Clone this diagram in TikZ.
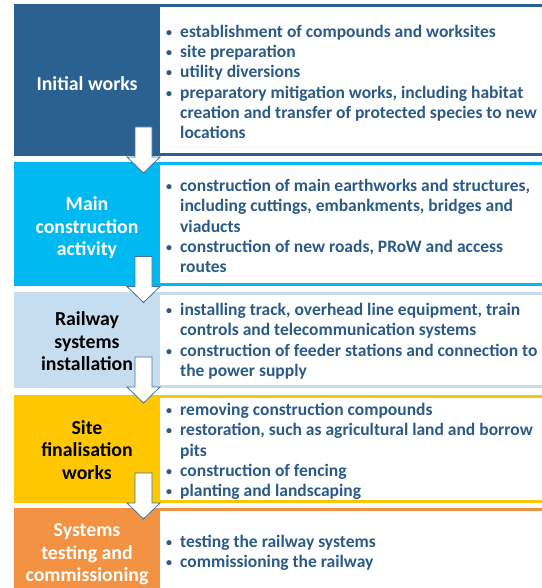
\documentclass[tikz,border=0pt]{standalone}
\usepackage{fontspec}
\setmainfont{Carlito}
\definecolor{stageA}{HTML}{2A6190}
\definecolor{stageB}{HTML}{00B9F1}
\definecolor{stageC}{HTML}{C6DDF0}
\definecolor{stageD}{HTML}{FFC700}
\definecolor{stageE}{HTML}{F39243}
\definecolor{itemtext}{HTML}{2C5A87}
\definecolor{arrowline}{HTML}{41719C}
\newcommand{\bul}{\makebox[14bp][l]{\raisebox{1bp}{\fontsize{12bp}{12bp}\selectfont\textbullet}}}
\newcommand{\cont}{\makebox[14bp][l]{}}
\tikzset{
  stagelabel/.style={font=\bfseries\fontsize{19.8bp}{22.5bp}\selectfont, align=center, inner sep=0pt},
  itemlist/.style={anchor=west, text=itemtext, inner sep=0pt,
    font=\bfseries\fontsize{17.5bp}{20.3bp}\selectfont, align=left},
  panel/.style={fill=white},
  pics/downarrow/.style={code={
    \draw[fill=white, draw=arrowline, line width=0.8bp, line join=miter]
      (-8.5,0) -- (8.5,0) -- (8.5,30) -- (16.5,30) -- (0,46)
      -- (-16.5,30) -- (-8.5,30) -- cycle;
  }}
}
\begin{document}
\begin{tikzpicture}[x=1bp, y=-1bp]
\useasboundingbox (0,0) rectangle (542,588);
\clip (0,0) rectangle (542,588);
\fill[white] (0,0) rectangle (542,588);

% stage backgrounds with white item panels
\fill[stageA] (14,4.5) rectangle (560,156);
\fill[panel] (160,7) rectangle (560,153.5);
\fill[stageB] (14,162) rectangle (560,285.5);
\fill[panel] (160,165) rectangle (560,283);
\fill[stageC] (14,292) rectangle (560,387.5);
\fill[panel] (160,295) rectangle (560,385);
\fill[stageD] (14,395) rectangle (560,502.5);
\fill[panel] (160,398) rectangle (560,500);
\fill[stageE] (14,508) rectangle (560,600);
\fill[panel] (160,511) rectangle (560,600);

% stage names
\node[stagelabel, text=white] (s1) at (87,84) {Initial works};
\node[stagelabel, text=white] (s2) at (87,228) {Main\\construction\\activity};
\node[stagelabel, text=black] (s3) at (87,341.5) {Railway\\systems\\installation};
\node[stagelabel, text=black] (s4) at (87,450) {Site\\finalisation\\works};
\node[stagelabel, text=white] (s5) at (87,554.5) {Systems\\testing and\\commissioning};

% activities of each stage
\node[itemlist] (l1) at (166,84) {\begin{tabular}{@{}l@{}}
\bul establishment of compounds and worksites\\
\bul site preparation\\
\bul utility diversions\\
\bul preparatory mitigation works, including habitat\\
\cont creation and transfer of protected species to new\\
\cont locations
\end{tabular}};
\node[itemlist] (l2) at (166,228) {\begin{tabular}{@{}l@{}}
\bul construction of main earthworks and structures,\\
\cont including cuttings, embankments, bridges and\\
\cont viaducts\\
\bul construction of new roads, PRoW and access\\
\cont routes
\end{tabular}};
\node[itemlist] (l3) at (166,342) {\begin{tabular}{@{}l@{}}
\bul installing track, overhead line equipment, train\\
\cont controls and telecommunication systems\\
\bul construction of feeder stations and connection to\\
\cont the power supply
\end{tabular}};
\node[itemlist] (l4) at (166,452) {\begin{tabular}{@{}l@{}}
\bul removing construction compounds\\
\bul restoration, such as agricultural land and borrow\\
\cont pits\\
\bul construction of fencing\\
\bul planting and landscaping
\end{tabular}};
\node[itemlist] (l5) at (166,553.5) {\begin{tabular}{@{}l@{}}
\bul testing the railway systems\\
\bul commissioning the railway
\end{tabular}};

% block arrows leading from one stage to the next
\coordinate (a1) at (143.5,127);
\coordinate (a2) at (143.5,256.5);
\coordinate (a3) at (143.5,357);
\coordinate (a4) at (143.5,473);
\pic at (a1) {downarrow};
\pic at (a2) {downarrow};
\pic at (a3) {downarrow};
\pic at (a4) {downarrow};
\end{tikzpicture}
\end{document}
